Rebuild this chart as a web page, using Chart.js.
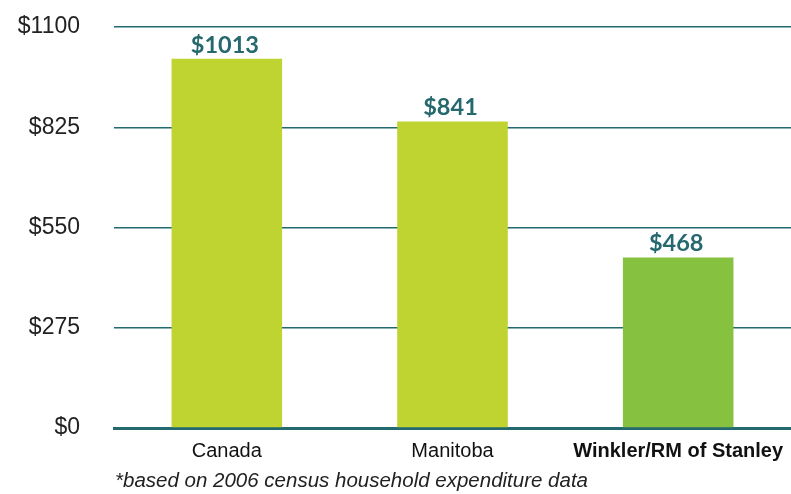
<!DOCTYPE html>
<html><head><meta charset="utf-8">
<script src="https://cdn.jsdelivr.net/npm/chart.js@4/dist/chart.umd.min.js"></script>
<style>html,body{margin:0;padding:0;background:#fff}#wrap{width:791px;height:494px;position:relative}</style>
</head><body><div id="wrap"><canvas id="c" width="791" height="494"></canvas></div>
<script>
const categories = ["Canada", "Manitoba", "Winkler/RM of Stanley"];
const values = [1013, 841, 468];
const barColors = ["#bfd431", "#bfd431", "#86c240"];
const yTicks = [0, 275, 550, 825, 1100];
const footnote = "*based on 2006 census household expenditure data";
const teal = "#226970";

const labelPlugin = {
  id: 'valLabels',
  afterDatasetsDraw(chart) {
    const ctx = chart.ctx;
    const meta = chart.getDatasetMeta(0);
    ctx.save();
    ctx.font = "bold 23.5px Lato, 'Open Sans', sans-serif";
    ctx.fillStyle = "#25686e";
    ctx.textAlign = "center";
    ctx.textBaseline = "alphabetic";
    meta.data.forEach((bar, i) => {
      ctx.fillText("$" + values[i], bar.x - 2, bar.y - 6);
    });
    ctx.restore();
  },
  afterDraw(chart) {
    const ctx = chart.ctx;
    ctx.save();
    ctx.font = "italic 20.5px 'Liberation Sans', Arial, sans-serif";
    ctx.fillStyle = "#222";
    ctx.textAlign = "left";
    ctx.textBaseline = "alphabetic";
    ctx.fillText(footnote, chart.chartArea.left + 1, 487);
    ctx.restore();
  }
};

new Chart(document.getElementById('c'), {
  type: 'bar',
  data: {
    labels: categories,
    datasets: [{ data: values, backgroundColor: barColors, barPercentage: 0.49, categoryPercentage: 1 }]
  },
  options: {
    responsive: false,
    animation: false,
    layout: { padding: { top: 27, right: 0, bottom: 20, left: 0 } },
    plugins: { legend: { display: false }, tooltip: { enabled: false } },
    scales: {
      x: {
        afterFit: (s) => { s.paddingLeft = 0; s.paddingRight = 0; },
        grid: { display: false, drawTicks: false },
        border: { display: true, color: teal, width: 3 },
        ticks: {
          padding: 11,
          color: "#111",
          font: (c) => c.index === 2
            ? { family: "'Liberation Sans', Arial, sans-serif", size: 20, weight: 'bold' }
            : { family: "'Liberation Sans', Arial, sans-serif", size: 20, weight: 'normal' }
        }
      },
      y: {
        min: 0, max: 1100,
        afterBuildTicks: (s) => { s.ticks = yTicks.map(v => ({ value: v })); },
        afterFit: (s) => { s.width = 114; s.paddingTop = 0; s.paddingBottom = 0; },
        grid: { color: teal, lineWidth: 1.5, drawTicks: false },
        border: { display: false },
        ticks: {
          padding: 34,
          color: "#222",
          font: { family: "'Liberation Sans', Arial, sans-serif", size: 23 },
          callback: (v) => "$" + v
        }
      }
    }
  },
  plugins: [labelPlugin]
});
</script></body></html>
